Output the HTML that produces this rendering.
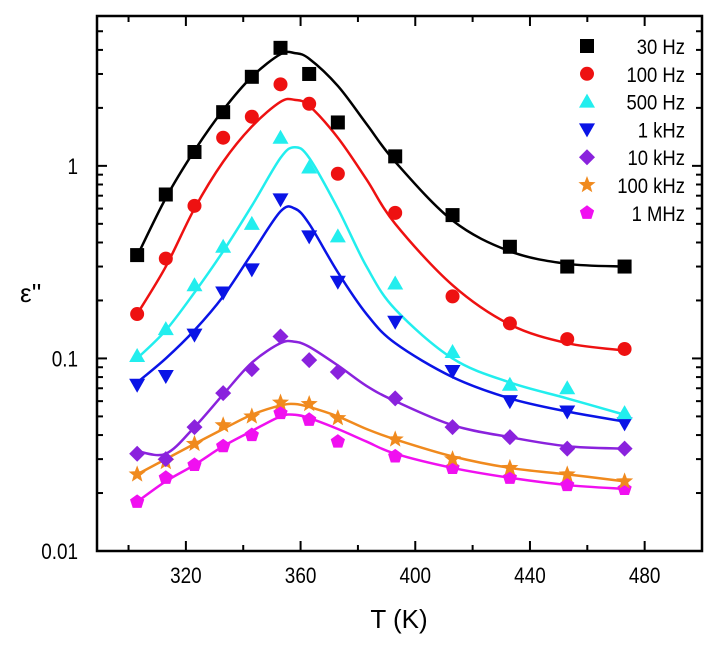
<!DOCTYPE html>
<html><head><meta charset="utf-8"><style>
body{margin:0;background:#fff}
svg{display:block;font-family:"Liberation Sans",Arial,sans-serif}
</style></head><body>
<svg id="chart" width="713" height="649" viewBox="0 0 713 649"></svg>
<script>
const temps=[303,313,323,333,343,353,363,373,393,413,433,453,473];
const fitTemps=[303,313,323,333,343,353,358,363,373,383,393,413,433,453,473];
const seriesNames=["30 Hz","100 Hz","500 Hz","1 kHz","10 kHz","100 kHz","1 MHz"];
const s30=[0.344,0.71,1.18,1.9,2.9,4.1,3.0,1.68,1.12,0.555,0.38,0.30,0.30];
const s100=[0.17,0.33,0.62,1.4,1.8,2.65,2.1,0.91,0.57,0.21,0.152,0.126,0.112];
const s500=[0.103,0.142,0.24,0.38,0.5,1.4,0.98,0.43,0.245,0.108,0.073,0.07,0.052];
const s1k=[0.073,0.081,0.133,0.22,0.29,0.67,0.43,0.25,0.155,0.086,0.06,0.053,0.046];
const s10k=[0.032,0.03,0.044,0.066,0.088,0.13,0.098,0.085,0.062,0.044,0.039,0.034,0.034];
const s100k=[0.025,0.029,0.036,0.045,0.05,0.059,0.058,0.049,0.038,0.03,0.027,0.025,0.023];
const s1M=[0.018,0.024,0.028,0.035,0.04,0.052,0.048,0.037,0.031,0.027,0.024,0.022,0.021];
const f30=[0.34,0.68,1.2,1.95,2.9,3.8,3.85,3.6,2.6,1.65,1.05,0.52,0.36,0.31,0.30];
const f100=[0.17,0.3,0.6,1.05,1.6,2.15,2.2,2.05,1.4,0.85,0.5,0.24,0.15,0.12,0.11];
const f500=[0.1,0.14,0.22,0.36,0.62,1.1,1.25,1.1,0.6,0.3,0.18,0.1,0.075,0.062,0.051];
const f1k=[0.075,0.1,0.14,0.21,0.35,0.58,0.6,0.5,0.28,0.17,0.12,0.08,0.062,0.053,0.047];
const f10k=[0.033,0.032,0.044,0.065,0.095,0.12,0.122,0.115,0.092,0.072,0.06,0.045,0.039,0.035,0.034];
const f100k=[0.025,0.03,0.036,0.043,0.051,0.057,0.058,0.056,0.05,0.043,0.038,0.031,0.027,0.025,0.023];
const f1M=[0.018,0.023,0.028,0.035,0.042,0.05,0.051,0.049,0.043,0.037,0.032,0.027,0.024,0.022,0.021];
const xTicks=[320,360,400,440,480];
const xMinor=[300,340,380,420,460,500];
const yTicks=[0.01,0.1,1];
const yTickLabels=["0.01","0.1","1"];

const L=97,R=702,T=16,B=551;
const xMin=289,xMax=500,yMin=0.01,yMax=6;
const X=t=>L+(t-xMin)/(xMax-xMin)*(R-L);
const Y=v=>B-(Math.log10(v)-Math.log10(yMin))/(Math.log10(yMax)-Math.log10(yMin))*(B-T);
const NS="http://www.w3.org/2000/svg";
const svg=document.getElementById("chart");
function mk(tag,attrs,parent){const e=document.createElementNS(NS,tag);for(const k in attrs)e.setAttribute(k,attrs[k]);(parent||svg).appendChild(e);return e;}

const axes=mk("g",{});


const frame=mk("rect",{x:L,y:T,width:R-L,height:B-T,fill:"none",stroke:"#000","stroke-width":2.5},axes);


xTicks.forEach(t=>{const x=X(t);
 mk("line",{x1:x,x2:x,y1:B,y2:B-10,stroke:"#000","stroke-width":2},axes);
 mk("line",{x1:x,x2:x,y1:T,y2:T+10,stroke:"#000","stroke-width":2},axes);
 const tx=mk("text",{x:x,y:B+32,"text-anchor":"middle","font-size":22,transform:`translate(${x},0) scale(0.86,1) translate(${-x},0)`},axes);tx.textContent=t;
 
 
});
xMinor.forEach(t=>{const x=X(t);if(x<L||x>R)return;
 mk("line",{x1:x,x2:x,y1:B,y2:B-6,stroke:"#000","stroke-width":2},axes);
 mk("line",{x1:x,x2:x,y1:T,y2:T+6,stroke:"#000","stroke-width":2},axes);});
yTicks.forEach((v,i)=>{const y=Y(v);
 mk("line",{x1:L,x2:L+10,y1:y,y2:y,stroke:"#000","stroke-width":2},axes);
 mk("line",{x1:R,x2:R-10,y1:y,y2:y,stroke:"#000","stroke-width":2},axes);
 const tx=mk("text",{x:78,y:y+8,"text-anchor":"end","font-size":22,transform:`translate(78,0) scale(0.86,1) translate(-78,0)`},axes);tx.textContent=yTickLabels[i];
 
 
 for(let m=2;m<=9;m++){const vv=v*m;if(vv>yMax)break;const yy=Y(vv);
  mk("line",{x1:L,x2:L+6,y1:yy,y2:yy,stroke:"#000","stroke-width":2},axes);
  mk("line",{x1:R,x2:R-6,y1:yy,y2:yy,stroke:"#000","stroke-width":2},axes);}
});
const xt=mk("text",{x:399,y:628,"text-anchor":"middle","font-size":26},axes);xt.textContent="T (K)";


const yt=mk("text",{x:20,y:302,"font-size":26},axes);yt.textContent="ε''";



const colors=["#000000","#ee1111","#22eeee","#0a14e6","#8a22dd","#f08a1e","#f010f0"];
const markers=["square","circle","up","down","diamond","star","pent"];
const pts=[s30,s100,s500,s1k,s10k,s100k,s1M];
const fits=[f30,f100,f500,f1k,f10k,f100k,f1M];

function marker(type,x,y,c,parent){
 const s=7;
 if(type==="square")return mk("rect",{x:x-s,y:y-s,width:2*s,height:2*s,fill:c},parent);
 if(type==="circle")return mk("circle",{cx:x,cy:y,r:s,fill:c},parent);
 let p;
 if(type==="up")p=[[x,y-8],[x+8,y+6],[x-8,y+6]];
 else if(type==="down")p=[[x-8,y-6],[x+8,y-6],[x,y+8]];
 else if(type==="diamond")p=[[x,y-8],[x+8,y],[x,y+8],[x-8,y]];
 else if(type==="star"){p=[];for(let i=0;i<10;i++){const a=-Math.PI/2+i*Math.PI/5,r=i%2?3.8:9;p.push([x+r*Math.cos(a),y+r*Math.sin(a)]);}}
 else {p=[];for(let i=0;i<5;i++){const a=-Math.PI/2+i*2*Math.PI/5;p.push([x+7.5*Math.cos(a),y+7.5*Math.sin(a)]);}}
 return mk("polygon",{points:p.map(q=>q.join(",")).join(" "),fill:c},parent);
}
function curvePath(xs,ys){
 const P=xs.map((t,i)=>[X(t),Y(ys[i])]);
 let d=`M${P[0][0]},${P[0][1]}`;
 for(let i=0;i<P.length-1;i++){
  const p0=P[Math.max(0,i-1)],p1=P[i],p2=P[i+1],p3=P[Math.min(P.length-1,i+2)];
  const c1=[p1[0]+(p2[0]-p0[0])/6,p1[1]+(p2[1]-p0[1])/6];
  const c2=[p2[0]-(p3[0]-p1[0])/6,p2[1]-(p3[1]-p1[1])/6];
  d+=` C${c1[0]},${c1[1]} ${c2[0]},${c2[1]} ${p2[0]},${p2[1]}`;
 }
 return d;
}
for(let k=pts.length-1;k>=0;k--){
 const path=mk("path",{d:curvePath(fitTemps,fits[k]),fill:"none",stroke:colors[k],"stroke-width":2.5});
 
 
}
for(let k=pts.length-1;k>=0;k--){
 const g=mk("g",{});
 
 
 pts[k].forEach((v,i)=>{const m=marker(markers[k],X(temps[i]),Y(v),colors[k],g);
  
  });
}
const leg=mk("g",{});


seriesNames.forEach((n,k)=>{const y=46+k*27.8;
 const m=marker(markers[k],587,y,colors[k],leg);
 
 
 const tx=mk("text",{x:685,y:y+8,"text-anchor":"end","font-size":21,transform:`translate(685,0) scale(0.88,1) translate(-685,0)`},leg);tx.textContent=n;
 
 
});
</script>
</body></html>
